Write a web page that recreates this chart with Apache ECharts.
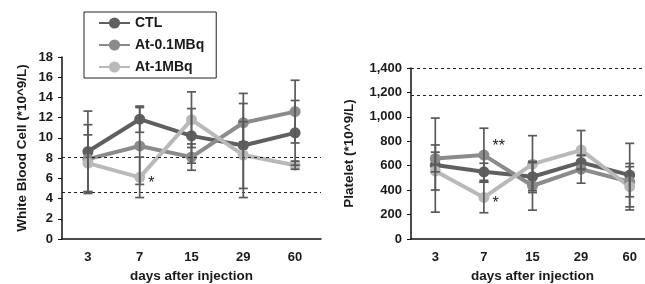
<!DOCTYPE html>
<html>
<head>
<meta charset="utf-8">
<script src="https://cdn.jsdelivr.net/npm/echarts@6/dist/echarts.min.js"></script>
<style>
  html, body { margin: 0; padding: 0; background: #fff; overflow: hidden; }
  #chart { width: 670px; height: 284px; }
</style>
</head>
<body>
<div id="chart"></div>
<script>
// x 轴类别
var days = ['3', '7', '15', '29', '60'];

// 白细胞 (左图)
var wbcCtl = [8.65, 11.85, 10.2, 9.25, 10.5];
var wbcCtlErr = [4.0, 1.3, 2.7, 5.15, 3.2];
var wbcLow = [7.9, 9.2, 8.1, 11.5, 12.6];
var wbcLowErr = [3.4, 3.8, 1.3, 1.9, 3.1];
var wbcHigh = [7.5, 6.1, 11.8, 8.3, 7.3];
var wbcHighErr = [2.8, 2.0, 2.75, 3.3, 0.4];
var wbcRef = [8.1, 4.6];

// 血小板 (右图)
var pltCtl = [605, 550, 510, 627, 523];
var pltCtlErr = [385, 70, 115, 55, 260];
var pltLow = [660, 687, 436, 572, 469];
var pltLowErr = [110, 220, 200, 115, 123];
var pltHigh = [556, 340, 613, 728, 428];
var pltHighErr = [155, 125, 233, 160, 190];
var pltRef = [1400, 1175];

var names = ['CTL', 'At-0.1MBq', 'At-1MBq'];
var colors = ['#5f5f5f', '#8b8b8b', '#b9b9b9'];
var font = 'Liberation Sans';

// 误差线数据 [类别, 下限, 上限]
function errData(vals, errs) {
    var res = [];
    for (var i = 0; i < vals.length; i++) {
        res.push([i, vals[i] - errs[i], vals[i] + errs[i]]);
    }
    return res;
}

// 给某个点加星号
function mark(vals, idx, text, offset) {
    return vals.map(function (v, i) {
        if (i !== idx) return v;
        return {
            value: v,
            label: {
                show: true, formatter: text, position: 'right', distance: 3,
                offset: offset, color: '#222', fontSize: 16, fontFamily: font
            }
        };
    });
}

function errSeries(vals, errs, gi) {
    return {
        type: 'custom',
        xAxisIndex: gi, yAxisIndex: gi,
        z: 5,
        silent: true,
        data: errData(vals, errs),
        renderItem: function (params, api) {
            var x = api.value(0);
            var lo = api.coord([x, api.value(1)]);
            var hi = api.coord([x, api.value(2)]);
            var w = 4.5;
            var st = { stroke: '#5a5a5a', lineWidth: 1.7 };
            return {
                type: 'group',
                children: [
                    { type: 'line', shape: { x1: lo[0], y1: lo[1], x2: hi[0], y2: hi[1] }, style: st },
                    { type: 'line', shape: { x1: lo[0] - w, y1: lo[1], x2: lo[0] + w, y2: lo[1] }, style: st },
                    { type: 'line', shape: { x1: hi[0] - w, y1: hi[1], x2: hi[0] + w, y2: hi[1] }, style: st }
                ]
            };
        }
    };
}

function lineSeries(name, data, color, gi, refs) {
    var s = {
        name: name,
        type: 'line',
        xAxisIndex: gi, yAxisIndex: gi,
        data: data,
        symbol: 'circle',
        symbolSize: 11,
        z: 3,
        lineStyle: { color: color, width: 4 },
        itemStyle: { color: color }
    };
    if (refs) {
        s.markLine = {
            silent: true,
            symbol: 'none',
            label: { show: false },
            lineStyle: { type: [3, 3], color: '#222', width: 1 },
            data: refs.map(function (v) { return { yAxis: v }; })
        };
    }
    return s;
}

var tickLabel = { color: '#1a1a1a', fontSize: 13, fontWeight: 'bold', fontFamily: font };
var nameStyle = { color: '#1a1a1a', fontSize: 13.5, fontWeight: 'bold', fontFamily: font };

function xAxis(gi, gap) {
    return {
        type: 'category', gridIndex: gi, data: days,
        name: 'days after injection', nameLocation: 'middle', nameGap: gap,
        nameTextStyle: nameStyle,
        axisLine: { lineStyle: { color: '#111', width: 1.5 } },
        axisTick: { show: false },
        axisLabel: Object.assign({ margin: 12 }, tickLabel)
    };
}

function yAxis(gi, max, interval, name, gap, fmt) {
    return {
        type: 'value', gridIndex: gi, min: 0, max: max, interval: interval,
        name: name, nameLocation: 'middle', nameGap: gap,
        nameTextStyle: nameStyle,
        axisLine: { show: true, lineStyle: { color: '#111', width: 1.5 } },
        axisTick: { show: true, length: 4, lineStyle: { color: '#111' } },
        splitLine: { show: false },
        axisLabel: Object.assign({ margin: 9, formatter: fmt }, tickLabel)
    };
}

var chart = echarts.init(document.getElementById('chart'));
var option = {
    backgroundColor: '#fff',
    animation: false,
    grid: [
        { left: 62, top: 57, width: 259, bottom: 45, outerBoundsMode: 'none' },
        { left: 411, top: 68, width: 243, bottom: 45, outerBoundsMode: 'none' }
    ],
    legend: {
        data: names,
        orient: 'vertical',
        left: 84, top: 12,
        borderColor: '#222', borderWidth: 1,
        padding: [4, 12, 4, 14],
        itemGap: 8,
        itemWidth: 31, itemHeight: 14,
        textStyle: { color: '#1a1a1a', fontSize: 14, fontWeight: 'bold', fontFamily: font }
    },
    xAxis: [xAxis(0, 25), xAxis(1, 29)],
    yAxis: [
        yAxis(0, 18, 2, 'White Blood Cell (*10^9/L)', 33),
        yAxis(1, 1400, 200, 'Platelet (*10^9/L)', 55, function (v) {
            return v.toLocaleString('en-US');
        })
    ],
    series: [
        lineSeries(names[0], wbcCtl, colors[0], 0, wbcRef),
        lineSeries(names[1], wbcLow, colors[1], 0),
        lineSeries(names[2], mark(wbcHigh, 1, '*', [0, 6]), colors[2], 0),
        errSeries(wbcCtl, wbcCtlErr, 0),
        errSeries(wbcLow, wbcLowErr, 0),
        errSeries(wbcHigh, wbcHighErr, 0),

        lineSeries(names[0], pltCtl, colors[0], 1, pltRef),
        lineSeries(names[1], mark(pltLow, 1, '**', [0, -8]), colors[1], 1),
        lineSeries(names[2], mark(pltHigh, 1, '*', [0, 6]), colors[2], 1),
        errSeries(pltCtl, pltCtlErr, 1),
        errSeries(pltLow, pltLowErr, 1),
        errSeries(pltHigh, pltHighErr, 1)
    ]
};
chart.setOption(option);
</script>
</body>
</html>
